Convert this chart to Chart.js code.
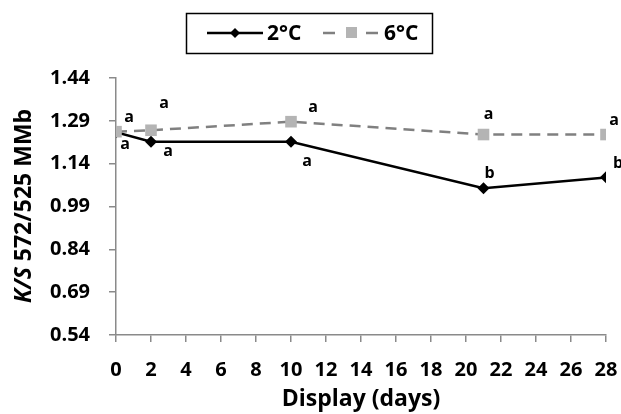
<!DOCTYPE html>
<html>
<head>
<meta charset="utf-8">
<script src="https://cdn.jsdelivr.net/npm/chart.js@4/dist/chart.umd.min.js"></script>
<style>
  html, body { margin: 0; padding: 0; background: #fff; }
  #wrap { width: 621px; height: 414px; position: relative; }
</style>
</head>
<body>
<div id="wrap"><canvas id="chart" width="621" height="414"></canvas></div>
<script>
// days of display
const days = [0, 2, 10, 21, 28];
const series2C = [1.25, 1.217, 1.217, 1.054, 1.092];
const series6C = [1.252, 1.257, 1.287, 1.242, 1.242];
const letters2C = ['a', 'a', 'a', 'b', 'b'];
const letters6C = ['a', 'a', 'a', 'a', 'a'];
const yTicks = [0.54, 0.69, 0.84, 0.99, 1.14, 1.29, 1.44];
const xTicks = [0, 2, 4, 6, 8, 10, 12, 14, 16, 18, 20, 22, 24, 26, 28];

const FONT = '"Open Sans", sans-serif';
const axisGray = '#8a8a8a';

// letter offsets (px) from each point
const letterOffsets = [
  [[9, 12], [17, 10], [16, 20], [6, -15], [12, -14]],
  [[13, -14], [13, -27], [22, -14], [5, -20], [8, -14]]
];

const lettersPlugin = {
  id: 'letters',
  afterDatasetsDraw(chart) {
    const ctx = chart.ctx;
    const sets = [letters2C, letters6C];
    ctx.save();
    ctx.fillStyle = '#000';
    ctx.font = 'bold 16px ' + FONT;
    ctx.textAlign = 'center';
    ctx.textBaseline = 'middle';
    sets.forEach((labels, di) => {
      const meta = chart.getDatasetMeta(di);
      meta.data.forEach((pt, i) => {
        const [dx, dy] = letterOffsets[di][i];
        ctx.fillText(labels[i], pt.x + dx, pt.y + dy);
      });
    });
    ctx.restore();
  }
};

const legendAndTitlePlugin = {
  id: 'legendBox',
  afterDraw(chart) {
    const ctx = chart.ctx;
    ctx.save();
    // legend box
    ctx.strokeStyle = '#000';
    ctx.lineWidth = 1.5;
    ctx.strokeRect(186.5, 13.5, 246, 40);
    const ly = 33;
    // 2°C entry
    ctx.lineWidth = 2.5;
    ctx.beginPath();
    ctx.moveTo(207, ly);
    ctx.lineTo(263, ly);
    ctx.stroke();
    ctx.fillStyle = '#000';
    ctx.beginPath();
    ctx.moveTo(235, ly - 5); ctx.lineTo(240, ly); ctx.lineTo(235, ly + 5); ctx.lineTo(230, ly);
    ctx.closePath();
    ctx.fill();
    ctx.font = 'bold 21px ' + FONT;
    ctx.textBaseline = 'middle';
    ctx.fillText('2°C', 267, ly + 1);
    // 6°C entry
    ctx.strokeStyle = '#808080';
    ctx.beginPath();
    ctx.moveTo(323, ly); ctx.lineTo(335, ly);
    ctx.moveTo(366, ly); ctx.lineTo(378, ly);
    ctx.stroke();
    ctx.fillStyle = '#b4b4b4';
    ctx.fillRect(346, ly - 6, 11, 11);
    ctx.fillStyle = '#000';
    ctx.fillText('6°C', 384, ly + 1);

    // y axis title with italic K/S
    ctx.translate(24, 206);
    ctx.rotate(-Math.PI / 2);
    const partA = 'K/S';
    const partB = ' 572/525 MMb';
    ctx.font = 'italic bold 23px ' + FONT;
    const wA = ctx.measureText(partA).width;
    ctx.font = 'bold 23px ' + FONT;
    const wB = ctx.measureText(partB).width;
    const x0 = -(wA + wB) / 2;
    ctx.textAlign = 'left';
    ctx.font = 'italic bold 23px ' + FONT;
    ctx.fillText(partA, x0, 0);
    ctx.font = 'bold 23px ' + FONT;
    ctx.fillText(partB, x0 + wA, 0);
    ctx.restore();
  }
};

new Chart(document.getElementById('chart'), {
  type: 'line',
  data: {
    labels: days,
    datasets: [
      {
        label: '2°C',
        data: days.map((d, i) => ({ x: d, y: series2C[i] })),
        borderColor: '#000',
        backgroundColor: '#000',
        borderWidth: 2.5,
        pointStyle: 'rectRot',
        pointRadius: 6,
        pointBorderWidth: 0,
        tension: 0,
        order: 2
      },
      {
        label: '6°C',
        data: days.map((d, i) => ({ x: d, y: series6C[i] })),
        borderColor: '#808080',
        backgroundColor: '#b4b4b4',
        borderWidth: 2.5,
        borderDash: [11, 7],
        pointStyle: 'rect',
        pointRadius: 8.2,
        pointBorderWidth: 0,
        tension: 0,
        order: 1
      }
    ]
  },
  options: {
    responsive: false,
    animation: false,
    devicePixelRatio: 1,
    layout: { padding: { top: 78, right: 15, bottom: 0, left: 0 } },
    plugins: {
      legend: { display: false },
      tooltip: { enabled: false }
    },
    scales: {
      x: {
        type: 'linear',
        min: 0,
        max: 28,
        afterBuildTicks: (scale) => { scale.ticks = xTicks.map(v => ({ value: v })); },
        afterFit: (scale) => {
          scale.height = 79;
          scale.paddingLeft = 0;
          scale.paddingRight = 0;
        },
        grid: { display: true, drawOnChartArea: false, tickLength: 7, color: axisGray, lineWidth: 1.5 },
        border: { color: axisGray, width: 1.5 },
        ticks: {
          color: '#000',
          font: { family: FONT, size: 20, weight: 'bold' },
          padding: 16,
          maxRotation: 0,
          autoSkip: false
        },
        title: {
          display: true,
          text: 'Display (days)',
          color: '#000',
          font: { family: FONT, size: 23, weight: 'bold' },
          padding: { top: 0, bottom: 1 }
        }
      },
      y: {
        min: 0.54,
        max: 1.44,
        afterBuildTicks: (scale) => { scale.ticks = yTicks.map(v => ({ value: v })); },
        afterFit: (scale) => { scale.width = 116; },
        grid: { display: true, drawOnChartArea: false, tickLength: 7, color: axisGray, lineWidth: 1.5 },
        border: { color: axisGray, width: 1.5 },
        ticks: {
          color: '#000',
          font: { family: FONT, size: 20, weight: 'bold' },
          padding: 19,
          callback: (v) => v.toFixed(2)
        }
      }
    }
  },
  plugins: [lettersPlugin, legendAndTitlePlugin]
});
</script>
</body>
</html>
